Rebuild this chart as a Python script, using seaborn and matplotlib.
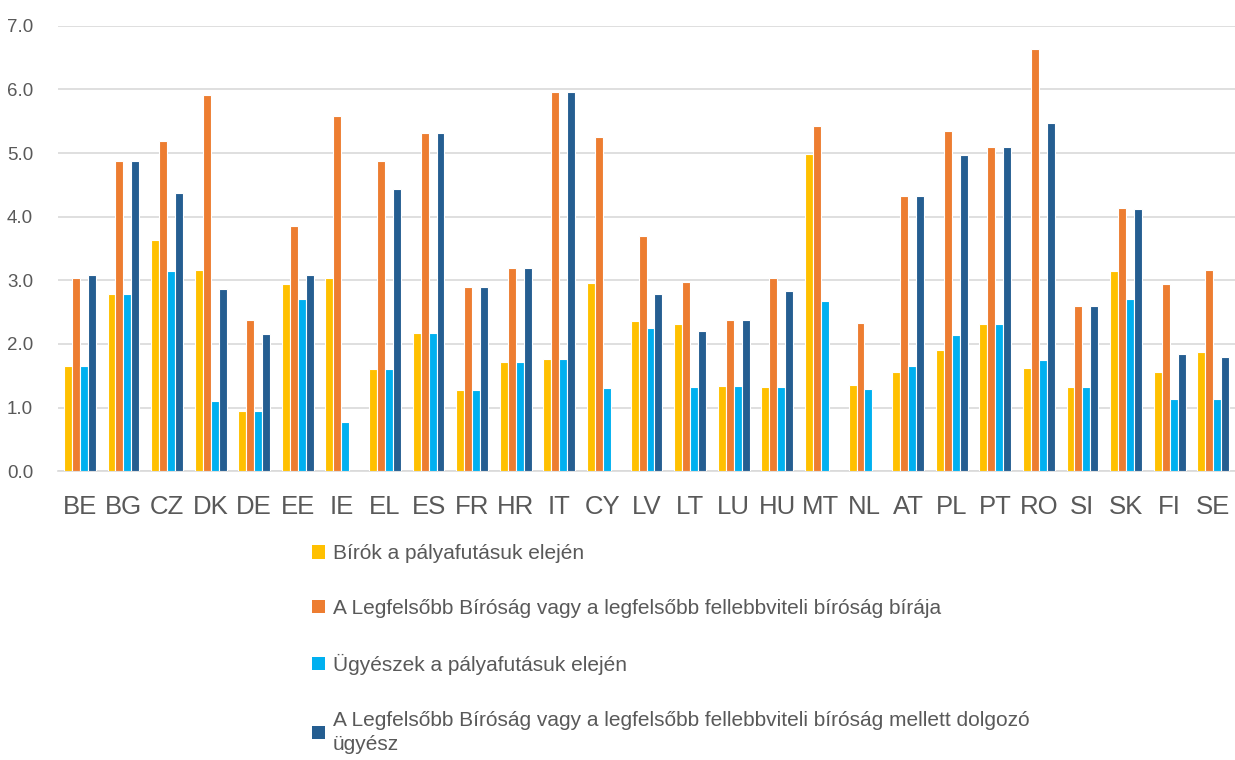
import numpy as np
import pandas as pd
import seaborn as sns
import matplotlib
matplotlib.use("Agg")
import matplotlib.pyplot as plt
from matplotlib import font_manager
from matplotlib.patches import Patch

# Member states
countries = ["BE", "BG", "CZ", "DK", "DE", "EE", "IE", "EL", "ES", "FR", "HR", "IT", "CY",
             "LV", "LT", "LU", "HU", "MT", "NL", "AT", "PL", "PT", "RO", "SI", "SK", "FI", "SE"]

# Ratio of gross salary to national average, by career stage
judges_start = [1.66, 2.78, 3.63, 3.16, 0.94, 2.95, 3.03, 1.60, 2.18, 1.27, 1.72, 1.76, 2.96,
                2.36, 2.32, 1.34, 1.33, 4.98, 1.35, 1.56, 1.91, 2.32, 1.62, 1.33, 3.14, 1.56, 1.87]
judges_supreme = [3.04, 4.88, 5.19, 5.91, 2.37, 3.85, 5.58, 4.88, 5.31, 2.89, 3.19, 5.96, 5.25,
                  3.69, 2.97, 2.38, 3.03, 5.42, 2.33, 4.33, 5.35, 5.10, 6.63, 2.59, 4.14, 2.95, 3.16]
prosecutors_start = [1.66, 2.78, 3.15, 1.11, 0.94, 2.70, 0.77, 1.60, 2.18, 1.27, 1.72, 1.76, 1.30,
                     2.25, 1.33, 1.34, 1.33, 2.68, 1.29, 1.66, 2.14, 2.32, 1.75, 1.33, 2.71, 1.14, 1.14]
prosecutors_supreme = [3.09, 4.88, 4.37, 2.86, 2.15, 3.08, np.nan, 4.43, 5.31, 2.89, 3.19, 5.96, np.nan,
                       2.78, 2.21, 2.38, 2.83, np.nan, np.nan, 4.33, 4.97, 5.10, 5.48, 2.59, 4.12, 1.84, 1.80]

series_labels = [
    "Bírók a pályafutásuk elején",
    "A Legfelsőbb Bíróság vagy a legfelsőbb fellebbviteli bíróság bírája",
    "Ügyészek a pályafutásuk elején",
    "A Legfelsőbb Bíróság vagy a legfelsőbb fellebbviteli bíróság mellett dolgozó\nügyész",
]
series_colors = ["#FFC000", "#ED7D31", "#00B0F0", "#255E91"]

frames = []
for label, values in zip(series_labels,
                         [judges_start, judges_supreme, prosecutors_start, prosecutors_supreme]):
    frames.append(pd.DataFrame({"country": countries, "value": values, "series": label}))
df = pd.concat(frames, ignore_index=True)

sns.set_theme(style="white")
available = {f.name for f in font_manager.fontManager.ttflist}
narrow = "Liberation Sans Narrow" if "Liberation Sans Narrow" in available else "Liberation Sans"
plt.rcParams["font.family"] = ["Liberation Sans", "DejaVu Sans"]

text_color = "#595959"
grid_color = "#D9D9D9"

fig = plt.figure(figsize=(12.35, 7.6), dpi=100)
ax = fig.add_axes([0.047, 0.380, 0.953, 0.586])

sns.barplot(data=df, x="country", y="value", hue="series", order=countries,
            hue_order=series_labels, palette=series_colors, width=0.73,
            edgecolor="white", linewidth=0.8, saturation=1, errorbar=None,
            legend=False, ax=ax, zorder=3)

ax.set_ylim(0, 7)
ax.set_xlim(-0.5, len(countries) - 0.5)
ax.set_yticks(np.arange(0, 7.5, 1.0))
ax.set_yticklabels([f"{v:.1f}" for v in np.arange(0, 7.5, 1.0)])
ax.yaxis.grid(True, color=grid_color, linewidth=1.2, zorder=0)
ax.set_axisbelow(True)
ax.set_xlabel("")
ax.set_ylabel("")

for side in ["top", "right", "left"]:
    ax.spines[side].set_visible(False)
ax.spines["bottom"].set_color(grid_color)
ax.spines["bottom"].set_linewidth(1.2)

# category separators below the axis
ax.set_xticks(np.arange(-0.5, len(countries), 1.0), minor=True)
ax.tick_params(axis="x", which="minor", length=9, width=1.2, color=grid_color)
ax.tick_params(axis="x", which="major", length=0, pad=17, labelsize=18.5, labelcolor=text_color)
ax.tick_params(axis="y", length=0, pad=18, labelsize=13.5, labelcolor=text_color)
for lbl in ax.get_xticklabels():
    lbl.set_family([narrow, "DejaVu Sans"])

handles = [Patch(facecolor=c, edgecolor="none") for c in series_colors]
leg = fig.legend(handles, series_labels, loc="upper left", bbox_to_anchor=(0.253, 0.284),
                 frameon=False, ncol=1, handlelength=0.62, handleheight=0.62, handletextpad=0.35,
                 labelspacing=1.72, borderaxespad=0, borderpad=0,
                 prop={"family": [narrow, "DejaVu Sans"], "size": 15}, labelcolor=text_color)
for t in leg.get_texts():
    t.set_linespacing(1.35)

fig.savefig("out.png", dpi=100, facecolor="white")
